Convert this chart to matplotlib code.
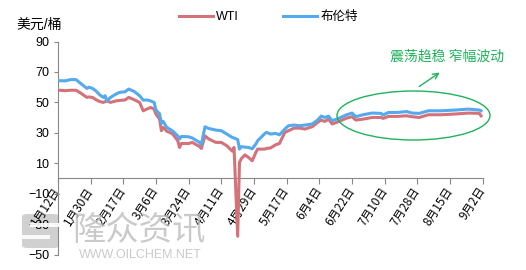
import matplotlib
matplotlib.use('Agg')
import matplotlib.pyplot as plt
from matplotlib.patches import Ellipse, FancyBboxPatch, Rectangle
import pandas as pd

plt.rcParams['font.family'] = ['Liberation Sans', 'Noto Sans CJK SC', 'DejaVu Sans']

# dates (2020) and prices
dates = ['01-12', '01-16', '01-19', '01-22', '01-24', '01-28', '01-29', '01-31',
         '02-02', '02-04', '02-06', '02-07', '02-08', '02-10', '02-13', '02-15',
         '02-18', '02-20', '02-23', '02-26', '02-28', '03-01', '03-03', '03-05',
         '03-06', '03-08', '03-09', '03-10', '03-12', '03-15', '03-16', '03-18',
         '03-19', '03-20', '03-24', '03-26', '03-30', '03-31', '04-02', '04-04',
         '04-08', '04-11', '04-14', '04-17', '04-18', '04-20', '04-21', '04-22',
         '04-24', '04-26', '04-28', '04-30', '05-01', '05-05', '05-06', '05-08',
         '05-11', '05-13', '05-16', '05-18', '05-21', '05-24', '05-27', '05-31',
         '06-03', '06-05', '06-07', '06-09', '06-11', '06-14', '06-19', '06-22',
         '06-24', '06-28', '07-03', '07-08', '07-09', '07-12', '07-17', '07-22',
         '07-25', '07-29', '08-03', '08-10', '08-18', '08-25', '08-31', '09-01']
brent = [64.3, 64.2, 65.0, 65.0, 63.0, 59.2, 60.0, 59.3,
         57.5, 55.0, 53.3, 54.4, 51.0, 53.3, 55.5, 56.6,
         57.0, 58.8, 57.2, 54.4, 51.5, 51.6, 51.0, 50.0,
         45.0, 42.5, 36.2, 37.5, 33.5, 31.4, 30.3, 28.0,
         26.0, 27.6, 27.4, 26.6, 23.7, 22.2, 34.0, 32.9,
         31.8, 31.4, 29.2, 27.0, 26.6, 25.6, 19.3, 20.9,
         20.6, 20.4, 19.5, 22.6, 24.8, 29.6, 30.3, 29.2,
         29.6, 28.7, 32.5, 34.7, 35.1, 34.7, 35.1, 35.8,
         38.4, 41.0, 40.1, 41.0, 38.0, 39.2, 41.9, 43.0,
         40.6, 41.9, 43.0, 42.8, 41.7, 43.4, 43.4, 44.0,
         43.0, 42.8, 44.5, 44.5, 45.0, 45.6, 45.0, 44.5]
wti = [58.1, 57.7, 58.0, 58.0, 56.6, 53.3, 53.6, 53.3,
       51.8, 50.6, 50.0, 50.5, 51.0, 50.0, 51.0, 51.3,
       51.6, 53.3, 51.8, 50.0, 44.5, 45.6, 46.7, 45.6,
       42.4, 39.0, 31.4, 33.5, 31.0, 29.5, 28.0, 24.8,
       20.4, 23.0, 23.0, 23.7, 21.0, 19.7, 28.0, 26.0,
       23.7, 23.7, 21.5, 18.0, 20.4, -38.0, 10.5, 13.0,
       15.5, 13.8, 11.6, 17.1, 19.3, 19.3, 19.8, 20.0,
       22.2, 23.0, 30.3, 31.4, 33.1, 33.1, 32.5, 34.0,
       36.8, 38.4, 37.5, 39.0, 35.8, 37.1, 39.7, 40.6,
       38.4, 39.0, 40.1, 40.1, 39.5, 40.8, 40.8, 41.2,
       40.6, 40.1, 41.9, 41.9, 42.4, 43.0, 42.8, 41.2]

y_ticks = [90, 70, 50, 30, 10, -10, -30, -50]
x_tick_dates = pd.date_range('2020-01-12', '2020-09-02', freq='18D')

df = pd.DataFrame({'date': pd.to_datetime(['2020-' + d for d in dates]),
                   'WTI': wti, '布伦特': brent})

fig = plt.figure(figsize=(5.26, 2.70), dpi=100)
ax = fig.add_axes([0.110, 0.0574, 0.808, 0.7886])

ax.plot(df['date'], df['WTI'], color='#D4727A', lw=2.2, label='WTI', zorder=3)
ax.plot(df['date'], df['布伦特'], color='#55A9EF', lw=2.2, label='布伦特', zorder=4)

# spine position first (it resets tick label styling)
for s in ['top', 'right']:
    ax.spines[s].set_visible(False)
ax.spines['bottom'].set_position(('data', 0))
ax.spines['bottom'].set_color('#888888')
ax.spines['left'].set_color('#888888')

ax.set_ylim(-50, 90)
ax.set_yticks(y_ticks)
ax.set_xlim(x_tick_dates[0], x_tick_dates[-1])
ax.set_xticks(x_tick_dates)
ax.set_xticklabels([f'{d.month}月{d.day}日' for d in x_tick_dates])
for lab in ax.get_xticklabels():
    lab.set_rotation(57)
    lab.set_ha('right')
    lab.set_va('center')
    lab.set_rotation_mode('anchor')
    lab.set_family(['Noto Sans CJK SC'])
    lab.set_fontsize(8.5)
ax.tick_params(axis='y', direction='out', length=3, color='#888888', labelsize=9, pad=3)
ax.tick_params(axis='x', direction='out', length=4, color='#888888', pad=3)

fig.text(0.032, 0.91, '美元/桶', fontsize=10, va='center', ha='left')

ax.legend(loc='center', bbox_to_anchor=(0.51, 0.937), bbox_transform=fig.transFigure,
          ncol=2, frameon=False, fontsize=9, handlelength=2.7, columnspacing=3.5,
          handletextpad=0.3)

# annotation: ellipse + arrow + text
ell = Ellipse((413.5 / 526, 1 - 115.5 / 270), 153 / 526, 49 / 270,
              transform=fig.transFigure, fill=False, edgecolor='#1DB35A', lw=1.0, zorder=5)
fig.add_artist(ell)
ax.annotate('', xy=(442 / 526, 1 - 71 / 270), xytext=(417 / 526, 1 - 88 / 270),
            xycoords='figure fraction', textcoords='figure fraction',
            arrowprops=dict(arrowstyle='->', color='#1DB35A', lw=1.0))
fig.text(0.85, 0.79, '震荡趋稳 窄幅波动', color='#1DB35A', fontsize=10,
         ha='center', va='center', family=['Noto Sans CJK SC'])

# watermark
wm = '#BDBDBD'
logo = FancyBboxPatch((22 / 526, 1 - 248 / 270), 37 / 526, 34 / 270,
                      boxstyle='round,pad=0,rounding_size=0.01', transform=fig.transFigure,
                      facecolor=wm, edgecolor='none', alpha=0.7, zorder=0)
fig.add_artist(logo)
fig.add_artist(Rectangle((30 / 526, 1 - 227 / 270), 29 / 526, 4 / 270, transform=fig.transFigure,
                         facecolor='white', edgecolor='none', alpha=0.9))
fig.add_artist(Rectangle((22 / 526, 1 - 239 / 270), 28 / 526, 4 / 270, transform=fig.transFigure,
                         facecolor='white', edgecolor='none', alpha=0.9))
fig.text(0.137, 1 - 230 / 270, '隆众资讯', fontsize=24, color=wm, alpha=0.8,
         ha='left', va='center', family=['Noto Sans CJK SC'], zorder=0)
fig.text(0.15, 1 - 255 / 270, 'WWW.OILCHEM.NET', fontsize=9, color=wm, alpha=0.8,
         ha='left', va='center', zorder=0)

fig.savefig('out.png', dpi=100)
